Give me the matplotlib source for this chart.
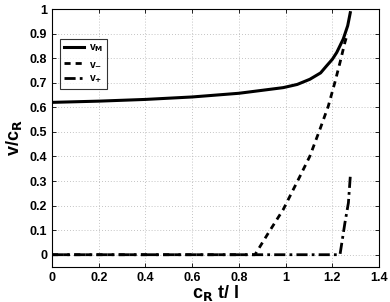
import matplotlib

matplotlib.use("Agg")
import matplotlib.pyplot as plt

plt.rcParams["font.family"] = ["Liberation Sans", "DejaVu Sans"]
plt.rcParams["font.weight"] = "bold"

# curves
x_m = [0, 0.2, 0.4, 0.6, 0.8, 0.85, 0.99, 1.05, 1.104, 1.15, 1.176, 1.2, 1.219, 1.247, 1.266, 1.277]
v_m = [0.620, 0.625, 0.632, 0.642, 0.657, 0.663, 0.680, 0.693, 0.714, 0.740, 0.769, 0.795, 0.823, 0.878, 0.932, 0.985]

x_minus = [0, 0.869, 0.926, 0.990, 1.062, 1.104, 1.147, 1.183, 1.211, 1.233, 1.254, 1.262]
v_minus = [0, 0, 0.088, 0.184, 0.320, 0.401, 0.510, 0.605, 0.701, 0.782, 0.864, 0.89]

x_plus = [0, 1.233, 1.254, 1.269, 1.277]
v_plus = [0, 0, 0.129, 0.211, 0.318]

xticks = [0, 0.2, 0.4, 0.6, 0.8, 1, 1.2, 1.4]
yticks = [0, 0.1, 0.2, 0.3, 0.4, 0.5, 0.6, 0.7, 0.8, 0.9, 1]

fig = plt.figure(figsize=(3.9, 3.02), dpi=100)
ax = fig.add_axes([52 / 390, 35 / 302, 327 / 390, 258 / 302])

ax.plot(x_m, v_m, color="black", linewidth=2.2, label=r"v$_\mathbf{M}$")
ax.plot(x_minus, v_minus, color="black", linewidth=2.0, linestyle=(0, (2.2, 1.8)), label=r"v$_\mathbf{-}$")
ax.plot(x_plus, v_plus, color="black", linewidth=2.0, linestyle=(0, (4, 1.5, 1, 1.5)), label=r"v$_\mathbf{+}$")

ax.set_xlim(0, 1.4)
ax.set_ylim(-0.05, 1)
ax.set_xticks(xticks)
ax.set_xticklabels(["0", "0.2", "0.4", "0.6", "0.8", "1", "1.2", "1.4"])
ax.set_yticks(yticks)
ax.set_yticklabels(["0", "0.1", "0.2", "0.3", "0.4", "0.5", "0.6", "0.7", "0.8", "0.9", "1"])
ax.tick_params(direction="in", length=3, labelsize=9, top=True, right=True, width=0.6)
for lbl in ax.get_xticklabels() + ax.get_yticklabels():
    lbl.set_fontweight("bold")
ax.grid(True, color="#b0b0b0", linestyle=(0, (1, 2.5)), linewidth=0.6)
for s in ax.spines.values():
    s.set_linewidth(0.8)

ax.set_xlabel(r"c$_\mathbf{R}$ t/ l", fontsize=13, fontweight="bold", labelpad=-0.5)
ax.set_ylabel(r"v/c$_\mathbf{R}$", fontsize=13, fontweight="bold", labelpad=4)

leg = ax.legend(loc="upper left", bbox_to_anchor=(0.025, 0.885), fontsize=7.5,
                frameon=True, fancybox=False, edgecolor="black", handlelength=1.9,
                borderpad=0.35, labelspacing=0.45, handletextpad=0.5, borderaxespad=0)
leg.get_frame().set_linewidth(0.8)
for t in leg.get_texts():
    t.set_fontweight("bold")

fig.savefig("out.png", dpi=100)
